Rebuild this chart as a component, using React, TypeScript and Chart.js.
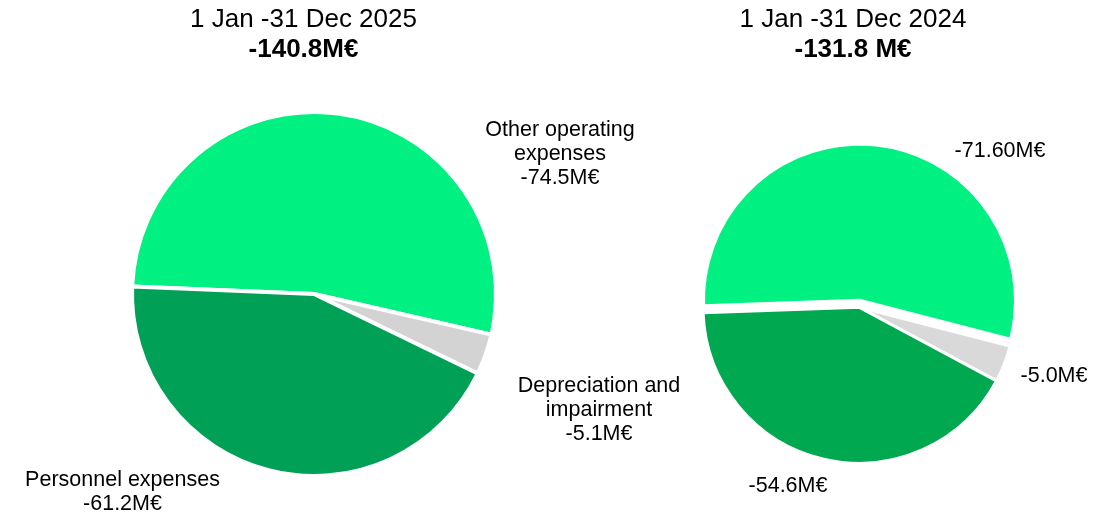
import React, { useEffect, useRef } from "react";
import { Chart, registerables } from "chart.js";

Chart.register(...registerables);

// ---- Data ----
const categories = ["Other operating expenses", "Depreciation and impairment", "Personnel expenses"];
const values2025 = [74.5, 5.1, 61.2];
const values2024 = [71.6, 5.0, 54.6];
const labels2025 = [["Other operating", "expenses", "-74.5M€"], ["Depreciation and", "impairment", "-5.1M€"], ["Personnel expenses", "-61.2M€"]];
const labels2024 = [["-71.60M€"], ["-5.0M€"], ["-54.6M€"]];
const title2025 = ["1 Jan -31 Dec 2025", "-140.8M€"];
const title2024 = ["1 Jan -31 Dec 2024", "-131.8 M€"];

// ---- Styles / layout ----
const W = 1120;
const H = 516;
const FONT = "'Liberation Sans', Arial, sans-serif";
const colors2025 = ["#00F082", "#D3D3D3", "#00A056"];
const colors2024 = ["#00F082", "#D9D9D9", "#00A850"];

const shiftPlugin = {
  id: "sliceShift",
  beforeDatasetDraw(chart: any, args: any, opts: any) {
    const shifts = opts && opts.shifts;
    if (!shifts) return;
    const ctx = chart.ctx;
    args.meta.data.forEach((arc: any, i: number) => {
      const s = shifts[i] || [0, 0];
      ctx.save();
      ctx.translate(s[0], s[1]);
      arc.draw(ctx, chart.chartArea);
      ctx.restore();
    });
    return false;
  },
};

const textPlugin = {
  id: "textBlocks",
  afterDraw(chart: any, _args: any, opts: any) {
    const blocks = (opts && opts.blocks) || [];
    const ctx = chart.ctx;
    ctx.save();
    ctx.fillStyle = "#000";
    ctx.textAlign = "center";
    ctx.textBaseline = "alphabetic";
    blocks.forEach((b: any) => {
      b.lines.forEach((line: string, i: number) => {
        const font = b.fonts ? b.fonts[i] : b.font;
        ctx.font = font;
        ctx.fillText(line, b.x, b.y + i * b.lh);
      });
    });
    ctx.restore();
  },
};

function makeConfig(p: {
  values: number[];
  colors: string[];
  cx: number;
  cy: number;
  radius: number;
  rotation: number;
  border: number;
  shifts: number[][];
  blocks: any[];
}) {
  const r0 = 140;
  return {
    type: "pie",
    data: {
      labels: categories,
      datasets: [
        {
          data: p.values,
          backgroundColor: p.colors,
          borderColor: "#FFFFFF",
          borderWidth: p.border,
        },
      ],
    },
    options: {
      responsive: false,
      animation: false,
      events: [],
      radius: p.radius,
      rotation: p.rotation,
      layout: {
        padding: {
          left: p.cx - r0,
          right: W - p.cx - r0,
          top: p.cy - r0,
          bottom: H - p.cy - r0,
        },
      },
      plugins: {
        legend: { display: false },
        tooltip: { enabled: false },
        title: { display: false },
        sliceShift: { shifts: p.shifts },
        textBlocks: { blocks: p.blocks },
      },
    },
    plugins: [shiftPlugin, textPlugin],
  } as any;
}

const LABEL_FONT = `21.5px ${FONT}`;
const TITLE_FONTS = [`26px ${FONT}`, `bold 26px ${FONT}`];

const config2025 = makeConfig({
  values: values2025,
  colors: colors2025,
  cx: 314,
  cy: 294,
  radius: 182,
  rotation: 272.4,
  border: 4,
  shifts: [[0, 0], [0, 0], [0, 0]],
  blocks: [
    { lines: title2025, x: 303.5, y: 27, lh: 30, fonts: TITLE_FONTS },
    { lines: labels2025[0], x: 560, y: 136, lh: 24, font: LABEL_FONT },
    { lines: labels2025[1], x: 599, y: 392, lh: 24, font: LABEL_FONT },
    { lines: labels2025[2], x: 122.5, y: 486, lh: 24, font: LABEL_FONT },
  ],
});

const config2024 = makeConfig({
  values: values2024,
  colors: colors2024,
  cx: 859.5,
  cy: 300.2,
  radius: 156,
  rotation: 268,
  border: 3,
  shifts: [[0, 0], [-0.5, 7], [-0.5, 7]],
  blocks: [
    { lines: title2024, x: 853, y: 27.3, lh: 29.5, fonts: TITLE_FONTS },
    { lines: labels2024[0], x: 1000, y: 157, lh: 24, font: LABEL_FONT },
    { lines: labels2024[1], x: 1054, y: 382, lh: 24, font: LABEL_FONT },
    { lines: labels2024[2], x: 788, y: 492, lh: 24, font: LABEL_FONT },
  ],
});

function PieCanvas({ config }: { config: any }) {
  const ref = useRef<HTMLCanvasElement | null>(null);
  useEffect(() => {
    if (!ref.current) return;
    const chart = new Chart(ref.current, config);
    return () => chart.destroy();
  }, [config]);
  return (
    <canvas
      ref={ref}
      width={W}
      height={H}
      style={{ position: "absolute", left: 0, top: 0, width: W, height: H }}
    />
  );
}

export default function App() {
  return (
    <div
      style={{
        position: "fixed",
        left: 0,
        top: 0,
        width: W,
        height: H,
        background: "#FFFFFF",
        overflow: "hidden",
      }}
    >
      <PieCanvas config={config2025} />
      <PieCanvas config={config2024} />
    </div>
  );
}
